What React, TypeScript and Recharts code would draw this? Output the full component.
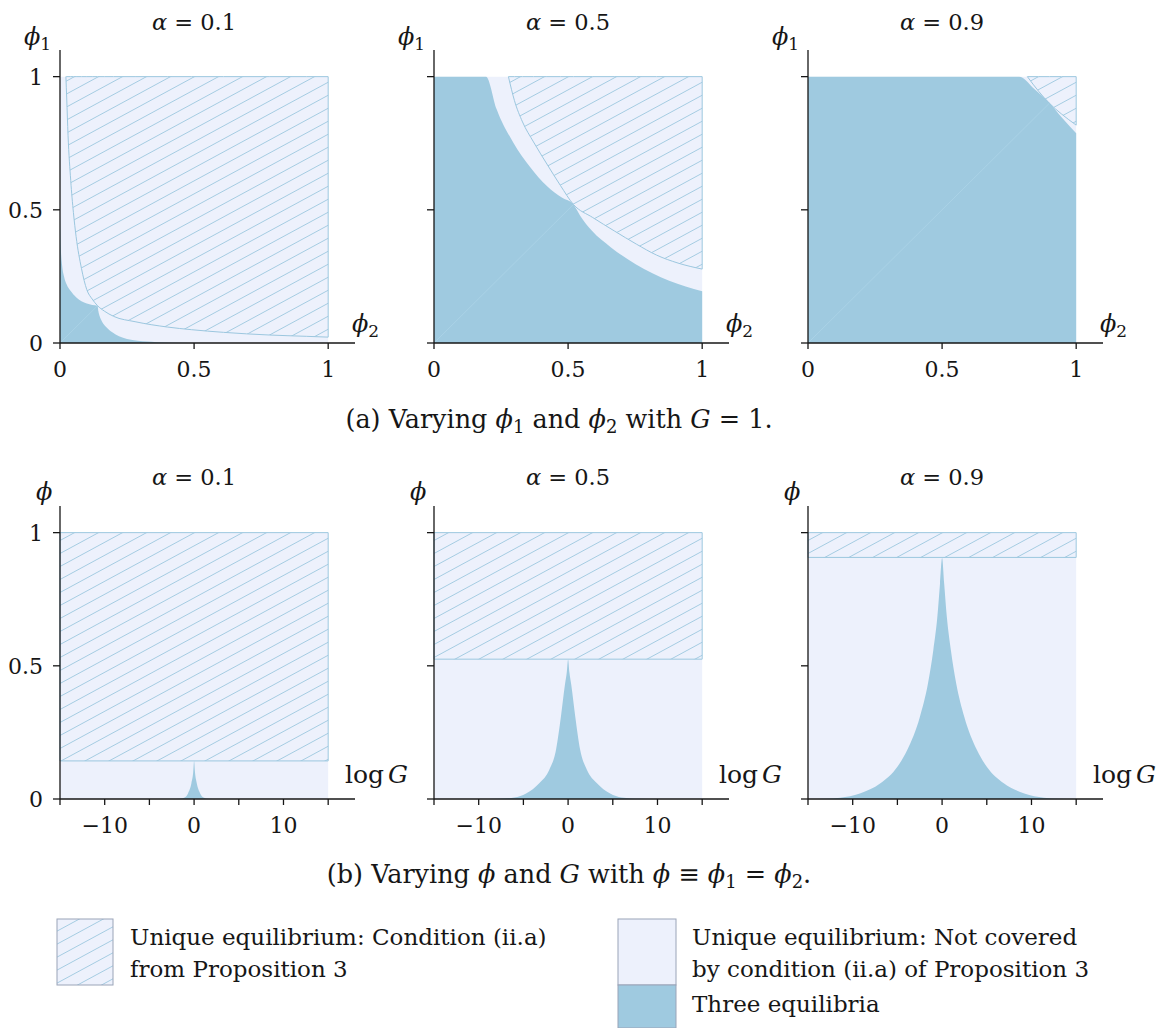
import React from "react";
import { ComposedChart, Area, XAxis, YAxis, ReferenceLine } from "recharts";

type Pt = [number, number];

const FONT = "'DejaVu Serif', 'Liberation Serif', serif";
const INK = "#161616";
const LIGHT = "#edf1fc";
const BLUE = "#9fcae0";
const HATCH = "#9cc7df";
const DIAG = "#aad2e6";
const BOX = "#9aa4b8";

const alphaLabels = ["0.1", "0.5", "0.9"];

// (a) G = 1 : phi2 on x, phi1 on y. top edge of the "three equilibria" region
const threeEqA01: Pt[] = [
  [0, 0.48], [0.003, 0.36], [0.008, 0.29], [0.015, 0.25], [0.025, 0.22], [0.04, 0.195],
  [0.06, 0.172], [0.08, 0.157], [0.1, 0.148], [0.12, 0.143], [0.14, 0.14], [0.143, 0.12],
  [0.148, 0.1], [0.157, 0.08], [0.172, 0.06], [0.195, 0.04], [0.22, 0.025], [0.25, 0.015],
  [0.29, 0.008], [0.36, 0.003], [0.48, 0], [1, 0],
];
const threeEqA05: Pt[] = [
  [0, 1], [0.194, 1], [0.234, 0.877], [0.296, 0.752], [0.359, 0.66], [0.421, 0.589],
  [0.478, 0.545], [0.52, 0.52], [0.545, 0.478], [0.589, 0.421], [0.66, 0.359],
  [0.752, 0.296], [0.877, 0.234], [1, 0.194],
];
const threeEqA09: Pt[] = [
  [0, 1], [0.787, 1], [0.845, 0.953], [0.9, 0.902], [0.948, 0.845], [1, 0.787],
];

// lower edge of the hatched region (condition ii.a), upper edge is phi1 = 1
const condA01: Pt[] = [
  [0.022, 1], [0.025, 0.92], [0.03, 0.78], [0.04, 0.61], [0.05, 0.49], [0.06, 0.4],
  [0.08, 0.28], [0.1, 0.2], [0.12, 0.165], [0.14, 0.14], [0.165, 0.12], [0.2, 0.1],
  [0.28, 0.08], [0.4, 0.06], [0.49, 0.05], [0.61, 0.04], [0.78, 0.03], [0.92, 0.025],
  [1, 0.022],
];
const condA05: Pt[] = [
  [0.2775, 1], [0.3, 0.91], [0.33, 0.83], [0.371, 0.755], [0.421, 0.672], [0.471, 0.592],
  [0.52, 0.52], [0.592, 0.471], [0.672, 0.421], [0.755, 0.371], [0.83, 0.33], [0.91, 0.3],
  [1, 0.2775],
];
const condA09: Pt[] = [
  [0.818, 1], [0.86, 0.945], [0.9, 0.9], [0.945, 0.86], [1, 0.818],
];

const diagEndA = [0.14, 0.52, 0.9];

// (b) phi1 = phi2 : log G on x
const condFloorB = [0.143, 0.525, 0.907];

const threeEqB01: Pt[] = [
  [-2.5, 0], [-1.6, 0.001], [-1.05, 0.006], [-0.68, 0.021], [-0.3, 0.059], [-0.1, 0.1],
  [0, 0.143], [0.1, 0.1], [0.3, 0.059], [0.68, 0.021], [1.05, 0.006], [1.6, 0.001], [2.5, 0],
];
const threeEqB05: Pt[] = [
  [-10, 0], [-8, 0.001], [-6, 0.006], [-4.7, 0.021], [-3.2, 0.06], [-2.1, 0.11],
  [-1.35, 0.185], [-0.8, 0.31], [-0.35, 0.43], [-0.15, 0.475], [0, 0.524], [0.15, 0.475],
  [0.35, 0.43], [0.8, 0.31], [1.35, 0.185], [2.1, 0.11], [3.2, 0.06], [4.7, 0.021],
  [6, 0.006], [8, 0.001], [10, 0],
];
const threeEqB09: Pt[] = [
  [-15, 0], [-13, 0.001], [-11.4, 0.005], [-9.2, 0.021], [-6.9, 0.059], [-5, 0.121],
  [-3.9, 0.184], [-2.48, 0.309], [-1.58, 0.434], [-0.98, 0.559], [-0.53, 0.684],
  [-0.23, 0.81], [0, 0.905], [0.23, 0.81], [0.53, 0.684], [0.98, 0.559], [1.58, 0.434],
  [2.48, 0.309], [3.9, 0.184], [5, 0.121], [6.9, 0.059], [9.2, 0.021], [11.4, 0.005],
  [13, 0.001], [15, 0],
];

const ticksUnit = [0, 0.5, 1];
const ticksLogG = [-15, -10, -5, 0, 5, 10, 15];
const labelledLogG = [-10, 0, 10];

type Row = { x: number; light?: number; hatch?: [number, number]; blue?: number };

function buildRows(extent: Pt, cond: Pt[], threeEq: Pt[]): Row[] {
  const rows: Row[] = [
    { x: extent[0], light: 1 },
    { x: extent[1], light: 1 },
    ...cond.map(([x, y]) => ({ x, hatch: [y, 1] as [number, number] })),
    ...threeEq.map(([x, y]) => ({ x, blue: y })),
  ];
  return rows.sort((a, b) => a.x - b.x);
}

const fmt = (v: number) => String(v).replace("-", "\u2212");

const PLOT_LEFT = [60, 434, 808];
const ROW_TOP = [0, 456];
const TICK_FS = 22;

function Panel(props: {
  col: number;
  row: number;
  rows: Row[];
  cond: Pt[];
  xDomain: Pt;
  xTicks: number[];
  labelled: number[];
  diagEnd?: number;
}) {
  const { col, row, rows, cond, xDomain, xTicks, labelled, diagEnd } = props;
  const first = cond[0];
  const last = cond[cond.length - 1];
  return (
    <div style={{ position: "absolute", left: PLOT_LEFT[col] - 60, top: ROW_TOP[row] }}>
      <ComposedChart width={375} height={393} data={rows} margin={{ top: 50, right: 20, bottom: 20, left: 0 }}>
        <Area dataKey="light" type="linear" stroke="none" fill={LIGHT} fillOpacity={1} connectNulls isAnimationActive={false} />
        <Area dataKey="blue" type="monotoneX" stroke="none" fill={BLUE} fillOpacity={1} connectNulls isAnimationActive={false} />
        {diagEnd !== undefined && (
          <ReferenceLine segment={[{ x: 0, y: 0 }, { x: diagEnd, y: diagEnd }]} stroke={DIAG} strokeWidth={1} />
        )}
        <Area dataKey="hatch" type="monotoneX" stroke={HATCH} strokeWidth={1} fill="url(#hatchFill)" fillOpacity={1} connectNulls isAnimationActive={false} />
        <ReferenceLine segment={[{ x: first[0], y: first[1] }, { x: first[0], y: 1 }]} stroke={HATCH} strokeWidth={1} />
        <ReferenceLine segment={[{ x: last[0], y: last[1] }, { x: last[0], y: 1 }]} stroke={HATCH} strokeWidth={1} />
        <XAxis
          type="number"
          dataKey="x"
          domain={xDomain}
          ticks={xTicks}
          interval={0}
          allowDataOverflow
          height={30}
          tickSize={6}
          tickMargin={0}
          axisLine={{ stroke: INK, strokeWidth: 1.3 }}
          tickLine={{ stroke: INK, strokeWidth: 1.3 }}
          tick={(p: any) =>
            labelled.includes(p.payload.value) ? (
              <text x={p.x} y={p.y + 28} textAnchor="middle" fontFamily={FONT} fontSize={TICK_FS} fill={INK}>
                {fmt(p.payload.value)}
              </text>
            ) : (
              <g />
            )
          }
        />
        <YAxis
          type="number"
          domain={[0, 1.1]}
          ticks={ticksUnit}
          interval={0}
          allowDataOverflow
          width={60}
          tickSize={7}
          tickMargin={0}
          axisLine={{ stroke: INK, strokeWidth: 1.3 }}
          tickLine={{ stroke: INK, strokeWidth: 1.3 }}
          tick={(p: any) =>
            col === 0 ? (
              <text x={p.x - 10} y={p.y + 8} textAnchor="end" fontFamily={FONT} fontSize={TICK_FS} fill={INK}>
                {fmt(p.payload.value)}
              </text>
            ) : (
              <g />
            )
          }
        />
      </ComposedChart>
    </div>
  );
}

const panelsA = [
  { cond: condA01, three: threeEqA01 },
  { cond: condA05, three: threeEqA05 },
  { cond: condA09, three: threeEqA09 },
];
const panelsB = [threeEqB01, threeEqB05, threeEqB09];

function Overlay() {
  const t = { fontFamily: FONT, fill: INK };
  const CAP = 25.5;
  return (
    <svg width={1167} height={1028} style={{ position: "absolute", left: 0, top: 0, pointerEvents: "none" }}>
      <defs>
        <pattern id="hatchFill" patternUnits="userSpaceOnUse" width={24} height={13}>
          <path d="M-12,6.5 L12,-6.5 M0,13 L24,0 M12,19.5 L36,6.5" stroke={HATCH} strokeWidth={0.9} fill="none" />
        </pattern>
      </defs>
      {alphaLabels.map((a, i) => {
        const pl = PLOT_LEFT[i];
        return (
          <g key={a} {...t}>
            <text x={pl + 134} y={30} textAnchor="middle" fontSize={22.5}>
              <tspan fontStyle="italic">α</tspan> = {a}
            </text>
            <text x={pl + 134} y={485} textAnchor="middle" fontSize={22.5}>
              <tspan fontStyle="italic">α</tspan> = {a}
            </text>
            <text x={pl - 36} y={45} fontSize={24}>
              <tspan fontStyle="italic">ϕ</tspan>
              <tspan dy={5} fontSize={17}>1</tspan>
            </text>
            <text x={pl + 292} y={332} fontSize={24}>
              <tspan fontStyle="italic">ϕ</tspan>
              <tspan dy={5} fontSize={17}>2</tspan>
            </text>
            <text x={pl - 24} y={500} fontSize={24} fontStyle="italic">ϕ</text>
            <text x={pl + 285} y={783} fontSize={25}>
              log<tspan fontStyle="italic" dx={4}>G</tspan>
            </text>
          </g>
        );
      })}
      <text x={559} y={428} textAnchor="middle" fontSize={CAP} {...t}>
        (a) Varying <tspan fontStyle="italic">ϕ</tspan>
        <tspan dy={5} fontSize={18}>1</tspan>
        <tspan dy={-5}> and </tspan>
        <tspan fontStyle="italic">ϕ</tspan>
        <tspan dy={5} fontSize={18}>2</tspan>
        <tspan dy={-5}> with </tspan>
        <tspan fontStyle="italic">G</tspan> = 1.
      </text>
      <text x={569} y={883} textAnchor="middle" fontSize={CAP} {...t}>
        (b) Varying <tspan fontStyle="italic">ϕ</tspan> and <tspan fontStyle="italic">G</tspan> with{" "}
        <tspan fontStyle="italic">ϕ</tspan> ≡ <tspan fontStyle="italic">ϕ</tspan>
        <tspan dy={5} fontSize={18}>1</tspan>
        <tspan dy={-5}> = </tspan>
        <tspan fontStyle="italic">ϕ</tspan>
        <tspan dy={5} fontSize={18}>2</tspan>
        <tspan dy={-5}>.</tspan>
      </text>
      {/* legend */}
      <rect x={57} y={919} width={56} height={66} fill={LIGHT} />
      <rect x={57} y={919} width={56} height={66} fill="url(#hatchFill)" stroke={BOX} strokeWidth={1} />
      <text x={130} y={945} fontSize={23} {...t}>Unique equilibrium: Condition (ii.a)</text>
      <text x={130} y={977} fontSize={23} {...t}>from Proposition 3</text>
      <rect x={618} y={919} width={58} height={66} fill={LIGHT} stroke={BOX} strokeWidth={1} />
      <rect x={618} y={985} width={58} height={43} fill={BLUE} stroke={BOX} strokeWidth={1} />
      <text x={692} y={945} fontSize={23} {...t}>Unique equilibrium: Not covered</text>
      <text x={692} y={977} fontSize={23} {...t}>by condition (ii.a) of Proposition 3</text>
      <text x={692} y={1012} fontSize={23} {...t}>Three equilibria</text>
    </svg>
  );
}

export default function App() {
  return (
    <div style={{ position: "absolute", left: 0, top: 0, width: 1167, height: 1028, background: "#fff" }}>
      {panelsA.map((p, i) => (
        <Panel
          key={"a" + i}
          col={i}
          row={0}
          rows={buildRows([0, 1], p.cond, p.three)}
          cond={p.cond}
          xDomain={[0, 1.1]}
          xTicks={ticksUnit}
          labelled={ticksUnit}
          diagEnd={diagEndA[i]}
        />
      ))}
      {panelsB.map((three, i) => {
        const cond: Pt[] = [[-15, condFloorB[i]], [15, condFloorB[i]]];
        return (
          <Panel
            key={"b" + i}
            col={i}
            row={1}
            rows={buildRows([-15, 15], cond, three)}
            cond={cond}
            xDomain={[-15, 18]}
            xTicks={ticksLogG}
            labelled={labelledLogG}
          />
        );
      })}
      <Overlay />
    </div>
  );
}
